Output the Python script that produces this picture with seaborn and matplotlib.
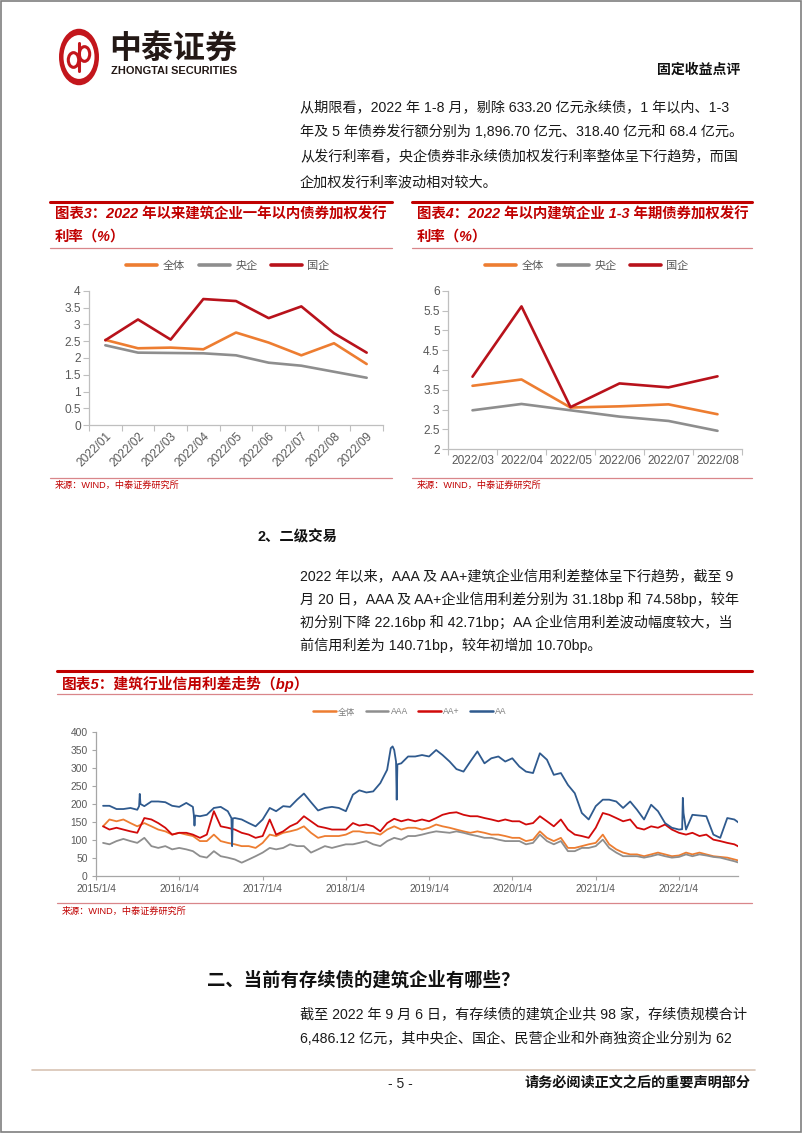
import numpy as np
import pandas as pd
import matplotlib.pyplot as plt
from matplotlib.patches import Circle, Rectangle
from matplotlib.lines import Line2D
import seaborn as sns

# ---- chart 3: <1y issuance rate (%) ----
months3 = ['2022/01', '2022/02', '2022/03', '2022/04', '2022/05',
           '2022/06', '2022/07', '2022/08', '2022/09']
all3 = [2.54, 2.29, 2.31, 2.26, 2.76, 2.46, 2.08, 2.44, 1.82]
central3 = [2.38, 2.16, 2.15, 2.14, 2.08, 1.86, 1.77, 1.59, 1.41]
local3 = [2.53, 3.15, 2.55, 3.76, 3.70, 3.19, 3.54, 2.74, 2.16]

# ---- chart 4: 1-3y issuance rate (%) ----
months4 = ['2022/03', '2022/04', '2022/05', '2022/06', '2022/07', '2022/08']
all4 = [3.60, 3.76, 3.05, 3.08, 3.13, 2.88]
central4 = [2.98, 3.14, 2.98, 2.82, 2.71, 2.46]
local4 = [3.83, 5.61, 3.06, 3.66, 3.56, 3.84]

# ---- chart 5: credit spread (bp), monthly readings 2015/01 - 2022/09 ----
spread_dates = pd.date_range('2015-01-04', periods=93, freq='MS') + pd.Timedelta(days=3)
spread_all = [138, 157, 152, 157, 147, 138, 147, 138, 129, 124, 115, 120,
              115, 111, 97, 97, 115, 97, 92, 88, 83, 83, 78, 92,
              115, 111, 120, 124, 129, 138, 120, 106, 111, 111, 111, 115,
              124, 124, 120, 120, 115, 129, 138, 129, 134, 134, 129, 134,
              143, 138, 134, 129, 124, 120, 124, 120, 115, 115, 111, 106,
              106, 97, 101, 124, 106, 97, 106, 78, 78, 83, 88, 92,
              115, 88, 74, 65, 60, 60, 55, 60, 65, 60, 55, 57,
              65, 60, 65, 60, 55, 53, 51, 46, 41]
spread_aaa = [92, 88, 97, 103, 97, 92, 106, 83, 78, 83, 74, 78,
              74, 69, 55, 51, 69, 55, 51, 46, 37, 46, 55, 65,
              78, 74, 78, 88, 83, 83, 65, 74, 83, 78, 83, 88,
              88, 92, 97, 88, 83, 97, 106, 101, 111, 111, 115, 120,
              124, 122, 120, 124, 120, 115, 111, 106, 106, 101, 97, 97,
              97, 88, 92, 115, 97, 88, 97, 69, 69, 78, 78, 83,
              101, 78, 65, 55, 55, 55, 51, 55, 60, 55, 51, 53,
              60, 55, 60, 57, 53, 51, 46, 41, 35]
spread_aap = [138, 129, 134, 129, 124, 120, 161, 157, 147, 134, 115, 120,
              120, 115, 106, 115, 180, 138, 134, 129, 120, 115, 106, 111,
              157, 115, 124, 138, 147, 166, 152, 138, 134, 129, 129, 129,
              147, 140, 143, 138, 124, 147, 159, 152, 157, 152, 157, 152,
              161, 170, 175, 177, 170, 166, 166, 161, 157, 152, 157, 152,
              152, 143, 147, 166, 152, 138, 157, 129, 115, 111, 106, 134,
              175, 170, 161, 152, 157, 134, 129, 138, 134, 143, 129, 120,
              115, 120, 111, 115, 101, 97, 92, 88, 78]
spread_aa = [195, 195, 186, 186, 189, 184, 194, 207, 207, 205, 195, 192,
             203, 192, 166, 170, 189, 192, 180, 161, 157, 147, 138, 157,
             189, 180, 194, 192, 212, 229, 205, 182, 189, 192, 189, 180,
             226, 238, 232, 235, 258, 295, 350, 313, 332, 332, 336, 332,
             350, 336, 318, 297, 290, 318, 346, 313, 327, 332, 318, 327,
             304, 290, 286, 341, 323, 281, 286, 253, 230, 175, 157, 194,
             212, 212, 207, 189, 207, 184, 157, 198, 180, 147, 134, 129,
             129, 170, 168, 166, 115, 106, 161, 157, 143]
# short-lived spikes in the AA curve: (date, value)
aa_spike_dates = ['2015-07-12', '2015-07-15', '2015-07-18',
                  '2016-03-08', '2016-03-11', '2016-03-14',
                  '2016-08-20', '2016-08-23', '2016-08-26',
                  '2018-07-20', '2018-07-28',
                  '2018-08-12', '2018-08-15', '2018-08-18',
                  '2022-01-18', '2022-01-21', '2022-01-24']
aa_spike_vals = [194, 228, 200, 170, 140, 168, 161, 83, 160,
                 355, 360, 318, 212, 310, 130, 217, 175]
years5 = ['2015/1/4', '2016/1/4', '2017/1/4', '2018/1/4', '2019/1/4',
          '2020/1/4', '2021/1/4', '2022/1/4']

ORANGE = '#ED7D31'
GREY = '#8E8E8E'
DRED = '#B8121B'
RED = '#D10A0A'
BLUE = '#2F5A8E'
TRED = '#C00000'

sns.set_theme(style='white')
plt.rcParams['font.family'] = ['Liberation Sans', 'Noto Sans CJK SC', 'DejaVu Sans']
plt.rcParams['axes.unicode_minus'] = False

W, H = 802, 1133
fig = plt.figure(figsize=(W / 100, H / 100), dpi=100)


def fx(x):
    return x / W


def fy(y):
    return 1 - y / H


def ftext(x, y, s, **kw):
    kw.setdefault('va', 'center')
    fig.text(fx(x), fy(y), s, **kw)


def hline(x0, x1, y, color, lw):
    fig.add_artist(Line2D([fx(x0), fx(x1)], [fy(y), fy(y)], color=color, lw=lw,
                          transform=fig.transFigure))


def add_ax(x0, x1, ytop, ybot):
    return fig.add_axes([fx(x0), fy(ybot), fx(x1) - fx(x0), fy(ytop) - fy(ybot)])


# page frame
fig.add_artist(Rectangle((0.001, 0.001), 0.998, 0.998, fill=False, ec='#7F7F7F',
                         lw=1.2, transform=fig.transFigure))

# ---- header / logo ----
lx, ly = fx(79), fy(57)
fig.add_artist(Circle((lx, ly), 20 / W, transform=fig.transFigure, fc='#C3161C', ec='none'))
fig.add_artist(Circle((lx, ly), 15.5 / W, transform=fig.transFigure, fc='white', ec='none'))
fig.add_artist(Line2D([lx, lx], [fy(43), fy(71)], color='#C3161C', lw=2.2,
                      transform=fig.transFigure))
fig.add_artist(Circle((fx(73.5), fy(60)), 5.2 / W, transform=fig.transFigure,
                      fc='none', ec='#C3161C', lw=2.2))
fig.add_artist(Circle((fx(84.5), fy(54)), 5.2 / W, transform=fig.transFigure,
                      fc='none', ec='#C3161C', lw=2.2))
ftext(109, 49, '中泰证券', fontsize=23, fontweight='bold', color='#231815')
ftext(111, 71, 'ZHONGTAI SECURITIES', fontsize=7.9, fontweight='bold', color='#231815')
ftext(740, 70, '固定收益点评', fontsize=10, fontweight='bold', color='#111111', ha='right')

body = dict(fontsize=10.2, color='#1A1A1A')
para1 = ['从期限看，2022 年 1-8 月，剔除 633.20 亿元永续债，1 年以内、1-3',
         '年及 5 年债券发行额分别为 1,896.70 亿元、318.40 亿元和 68.4 亿元。',
         '从发行利率看，央企债券非永续债加权发行利率整体呈下行趋势，而国',
         '企加权发行利率波动相对较大。']
for i, s in enumerate(para1):
    ftext(300, 107 + 25 * i, s, **body)


# ---- charts 3 & 4 ----
def small_chart(x0, x1, title1, title2, months, series, ylim, yticks, ax_box, rotate):
    hline(x0, x1, 202, TRED, 2.2)
    ftext(x0 + 5, 215, title1, fontsize=10.4, fontweight='bold', style='italic', color=TRED)
    ftext(x0 + 5, 237, title2, fontsize=10.4, fontweight='bold', style='italic', color=TRED)
    hline(x0, x1, 248, '#D9868A', 0.9)
    hline(x0, x1, 478, '#D9868A', 0.9)
    ftext(x0 + 5, 485, '来源：WIND，中泰证券研究所', fontsize=6.6, color=TRED)

    ax = add_ax(*ax_box)
    df = pd.DataFrame({'month': months * 3,
                       'rate': series[0] + series[1] + series[2],
                       'group': ['全体'] * len(months) + ['央企'] * len(months) + ['国企'] * len(months)})
    sns.lineplot(data=df, x='month', y='rate', hue='group', sort=False,
                 palette={'全体': ORANGE, '央企': GREY, '国企': DRED},
                 linewidth=1.9, ax=ax)
    n = len(months)
    ax.set_xlim(-0.5, n - 0.5)
    ax.set_ylim(*ylim)
    ax.set_yticks(yticks)
    ax.set_yticklabels([f'{t:g}' for t in yticks])
    ax.set_xticks(range(n))
    ax.set_xticks(np.arange(-0.5, n, 1), minor=True)
    ax.tick_params(axis='x', which='major', length=0, labelsize=8.6, labelcolor='#595959', pad=4)
    ax.tick_params(axis='x', which='minor', length=4, color='#BFBFBF', width=0.8, bottom=True)
    ax.tick_params(axis='y', length=4, color='#BFBFBF', width=0.8, left=True,
                   labelsize=8.6, labelcolor='#595959', pad=2)
    if rotate:
        plt.setp(ax.get_xticklabels(), rotation=45, ha='right', rotation_mode='anchor')
    ax.set_xlabel('')
    ax.set_ylabel('')
    for sp in ['top', 'right']:
        ax.spines[sp].set_visible(False)
    for sp in ['left', 'bottom']:
        ax.spines[sp].set_color('#BFBFBF')
        ax.spines[sp].set_linewidth(0.9)
    leg = ax.legend(loc='center', bbox_to_anchor=(fx((ax_box[0] + ax_box[1]) / 2 - 8), fy(266)),
                    bbox_transform=fig.transFigure,
                    ncol=3, frameon=False, fontsize=8, handlelength=2.8, handletextpad=0.5,
                    columnspacing=1.2, labelcolor='#595959')
    for h in leg.legend_handles:
        h.set_linewidth(2.6)
    return ax


small_chart(50, 392, '图表3：2022 年以来建筑企业一年以内债券加权发行', '利率（%）',
            months3, [all3, central3, local3], (0, 4), [0, 0.5, 1, 1.5, 2, 2.5, 3, 3.5, 4],
            (89, 383, 291, 425), True)
small_chart(412, 752, '图表4：2022 年以内建筑企业 1-3 年期债券加权发行', '利率（%）',
            months4, [all4, central4, local4], (2, 6), [2, 2.5, 3, 3.5, 4, 4.5, 5, 5.5, 6],
            (448, 742, 291, 449), False)

# ---- secondary market text ----
ftext(258, 537, '2、二级交易', fontsize=10.4, fontweight='bold', color='#111111')
para2 = ['2022 年以来，AAA 及 AA+建筑企业信用利差整体呈下行趋势，截至 9',
         '月 20 日，AAA 及 AA+企业信用利差分别为 31.18bp 和 74.58bp，较年',
         '初分别下降 22.16bp 和 42.71bp；AA 企业信用利差波动幅度较大，当',
         '前信用利差为 140.71bp，较年初增加 10.70bp。']
for i, s in enumerate(para2):
    ftext(300, 577 + 22.7 * i, s, **body)

# ---- chart 5 ----
hline(57, 752, 671, TRED, 2.2)
ftext(62, 684, '图表5：建筑行业信用利差走势（bp）', fontsize=10.6, fontweight='bold',
      style='italic', color=TRED)
hline(57, 752, 694, '#D9868A', 0.9)
hline(57, 752, 903, '#D9868A', 0.9)
ftext(62, 911, '来源：WIND，中泰证券研究所', fontsize=6.6, color=TRED)

aa_dates = list(spread_dates) + list(pd.to_datetime(aa_spike_dates))
aa_vals = spread_aa + aa_spike_vals
df5 = pd.concat([
    pd.DataFrame({'date': spread_dates, 'bp': spread_all, 'grade': '全体'}),
    pd.DataFrame({'date': spread_dates, 'bp': spread_aaa, 'grade': 'AAA'}),
    pd.DataFrame({'date': spread_dates, 'bp': spread_aap, 'grade': 'AA+'}),
    pd.DataFrame({'date': aa_dates, 'bp': aa_vals, 'grade': 'AA'}),
])
ax5 = add_ax(96, 738, 732, 876)
sns.lineplot(data=df5, x='date', y='bp', hue='grade', sort=True,
             hue_order=['全体', 'AAA', 'AA+', 'AA'],
             palette={'全体': ORANGE, 'AAA': GREY, 'AA+': RED, 'AA': BLUE},
             linewidth=1.3, ax=ax5)
ax5.set_xlim(pd.Timestamp('2015-01-04'), pd.Timestamp('2022-09-20'))
ax5.set_ylim(0, 400)
ax5.set_yticks(range(0, 401, 50))
tick_dates = pd.to_datetime(years5, format='%Y/%m/%d')
ax5.set_xticks(tick_dates)
ax5.set_xticklabels(years5)
ax5.tick_params(axis='both', labelsize=7.4, labelcolor='#595959', length=3,
                color='#A6A6A6', width=0.8, left=True, bottom=True, pad=3)
ax5.set_xlabel('')
ax5.set_ylabel('')
for sp in ['top', 'right']:
    ax5.spines[sp].set_visible(False)
for sp in ['left', 'bottom']:
    ax5.spines[sp].set_color('#A6A6A6')
    ax5.spines[sp].set_linewidth(0.9)
leg5 = ax5.legend(loc='center', bbox_to_anchor=(fx(410), fy(712)), bbox_transform=fig.transFigure,
                  ncol=4, frameon=False, fontsize=6.2, handlelength=2.6, handletextpad=0.3,
                  columnspacing=1.2, labelcolor='#7F7F7F')
for h in leg5.legend_handles:
    h.set_linewidth(1.8)

# ---- section two ----
ftext(207, 980, '二、当前有存续债的建筑企业有哪些？', fontsize=13.2, fontweight='bold', color='#111111')
para3 = ['截至 2022 年 9 月 6 日，有存续债的建筑企业共 98 家，存续债规模合计',
         '6,486.12 亿元，其中央企、国企、民营企业和外商独资企业分别为 62']
for i, s in enumerate(para3):
    ftext(300, 1015 + 24 * i, s, **body)

# ---- footer ----
hline(32, 755, 1070, '#D8C4B4', 1.2)
ftext(400, 1084, '- 5 -', fontsize=10, color='#222222', ha='center')
ftext(750, 1084, '请务必阅读正文之后的重要声明部分', fontsize=10.2, fontweight='bold',
      color='#111111', ha='right')

fig.savefig('out.png', dpi=100)
